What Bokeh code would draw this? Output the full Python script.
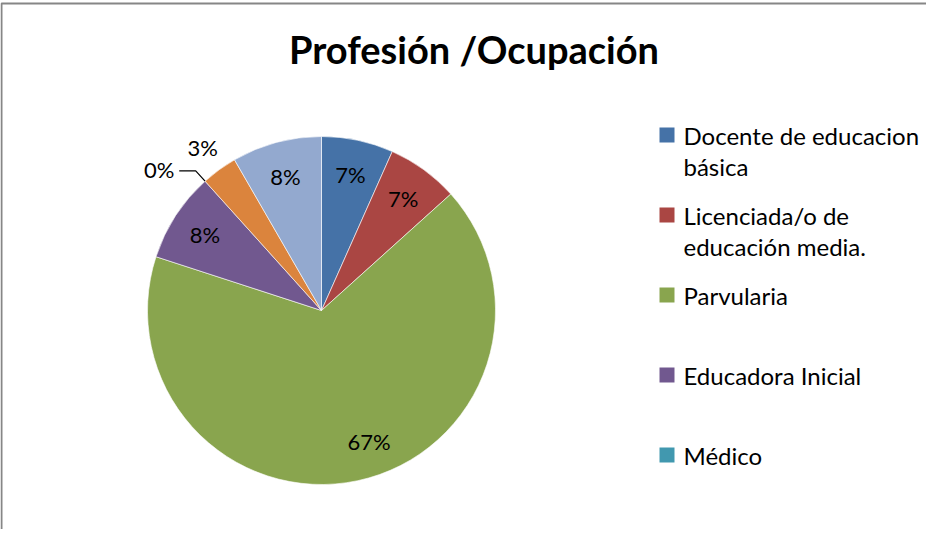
import math
import textwrap
from bokeh.plotting import figure
from bokeh.models import Range1d, ColumnDataSource
from bokeh.core.properties import value
from bokeh.embed import file_html
from bokeh.resources import INLINE

# ---------------- data ----------------
title = "Profesión /Ocupación"
categories = [
    "Docente de educacion básica",
    "Licenciada/o de educación media.",
    "Parvularia",
    "Educadora Inicial",
    "Médico",
    "Otra profesión",
    "Otros",
]
counts = [4, 4, 40, 5, 0, 2, 5]
colors = ["#4572A7", "#AA4643", "#89A54E", "#71588F", "#4198AF", "#DB843D", "#93A9CF"]
legend_visible = 5  # entries that fit in the legend box

# ---------------- layout helpers ----------------
W, H = 926, 529
FONT = "Lato"


def sx(X):
    return X - 8


def sy(Y):
    return (H + 8) - Y


CX, CY, R = 329, 318, 174

p = figure(width=W, height=H, output_backend="svg", toolbar_location=None,
           x_range=Range1d(0, W), y_range=Range1d(0, H), min_border=0)
p.axis.visible = False
p.grid.visible = False
p.outline_line_color = None
p.background_fill_color = "white"
p.border_fill_color = "white"

# chart-area border (extends past the window at right/bottom)
p.quad(left=[sx(9)], right=[sx(1200)], top=[sy(11)], bottom=[sy(900)],
       fill_color=None, line_color="#868686", line_width=2)

# ---------------- pie ----------------
total = sum(counts)
starts, ends, mids = [], [], []
cum = 0.0
for v in counts:
    a_end = math.pi / 2 - 2 * math.pi * cum / total
    cum += v
    a_start = math.pi / 2 - 2 * math.pi * cum / total
    starts.append(a_start)
    ends.append(a_end)
    mids.append((a_start + a_end) / 2)

nz = [i for i, v in enumerate(counts) if v > 0]
src = ColumnDataSource(dict(
    start=[starts[i] for i in nz], end=[ends[i] for i in nz],
    color=[colors[i] for i in nz], x=[sx(CX)] * len(nz), y=[sy(CY)] * len(nz)))
p.wedge(x="x", y="y", radius=R, radius_units="screen", start_angle="start",
        end_angle="end", direction="anticlock", fill_color="color",
        line_color="white", line_width=0.6, source=src)

# ---------------- data labels ----------------
lx, ly, lt = [], [], []
for i, v in enumerate(counts):
    pct = round(100 * v / total)
    share = v / total
    a = mids[i]
    if v == 0:
        a2 = a + math.radians(7)
        r = 215
        X = CX + r * math.cos(a2)
        Y = CY - r * math.sin(a2)
        ex, ey = CX + R * math.cos(a), CY - R * math.sin(a)
        bx, by = CX + (R + 14) * math.cos(a), CY - (R + 14) * math.sin(a)
        p.line([sx(ex), sx(bx), sx(X + 20)], [sy(ey), sy(by), sy(by)],
               line_color="black", line_width=1.2)
    elif share < 0.05:
        r = 202
        X = CX + r * math.cos(a)
        Y = CY - r * math.sin(a)
    elif share > 0.5:
        # Excel's best-fit places the large slice's label a little off the bisector
        a2 = a + math.radians(8)
        r = 139
        X = CX + r * math.cos(a2)
        Y = CY - r * math.sin(a2)
    else:
        r = 139
        X = CX + r * math.cos(a)
        Y = CY - r * math.sin(a)
    lx.append(sx(X))
    ly.append(sy(Y))
    lt.append(f"{pct}%")

p.text(x=lx, y=ly, text=lt, text_align="center", text_baseline="middle",
       text_font=value(FONT), text_font_size="22px", text_color="black")

# ---------------- title ----------------
p.text(x=[sx(481.5)], y=[sy(56)], text=[title], text_align="center",
       text_baseline="middle", text_font=value(FONT), text_font_style="bold",
       text_font_size="38px", text_color="black")

# ---------------- legend ----------------
tx, ty, tt = [], [], []
qx, qy, qc = [], [], []
for i in range(legend_visible):
    yc = 143 + 80 * i
    qx.append(sx(674.5))
    qy.append(sy(yc - 0.5))
    qc.append(colors[i])
    for j, line in enumerate(textwrap.wrap(categories[i], 20)):
        tx.append(sx(691))
        ty.append(sy(yc + 31 * j))
        tt.append(line)

p.rect(x=qx, y=qy, width=15, height=15, width_units="screen",
       height_units="screen", fill_color=qc, line_color=None)
p.text(x=tx, y=ty, text=tt, text_align="left", text_baseline="middle",
       text_font=value(FONT), text_font_size="24px", text_color="black")

open("out.html", "w").write(file_html(p, INLINE))
